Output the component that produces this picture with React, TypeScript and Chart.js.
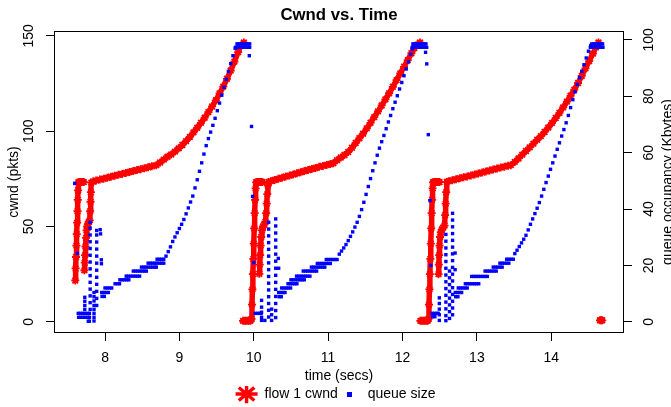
import React, { useEffect, useRef } from 'react';
import { Chart, registerables } from 'chart.js';

Chart.register(...registerables);

const FONT = '"Liberation Sans", Arial, Helvetica, sans-serif';

const chartTitle = 'Cwnd vs. Time';
const xAxisTitle = 'time (secs)';
const leftAxisTitle = 'cwnd (pkts)';
const rightAxisTitle = 'queue occupancy (Kbytes)';
const cwndLabel = 'flow 1 cwnd';
const queueLabel = 'queue size';

const xTicks = [8, 9, 10, 11, 12, 13, 14];
const cwndTicks = [0, 50, 100, 150];
const queueTicks = [0, 20, 40, 60, 80, 100];
const xRange = [7.314, 14.978];
const cwndRange = [-5.87, 152.57];
const queueRange = [-3.97, 103.17];

type P = [number, number | null];

// cwnd (pkts), [time, value]; null breaks the trace
const cwndCycle1: P[] = [
  [7.600, 21.7], [7.605, 28], [7.610, 34], [7.615, 40], [7.620, 46], [7.625, 52], [7.630, 58], [7.634, 64], [7.638, 69], [7.642, 73.2],
  [7.655, 73.4], [7.670, 73.4], [7.685, 73.4], [7.700, 73.4], [7.715, 73.3], [7.716, null],
  [7.722, 27], [7.727, 31], [7.732, 35], [7.738, 39.5], [7.745, 44], [7.752, 48], [7.760, 50], [7.770, 51.2], [7.782, 52.3], [7.794, 53.2],
  [7.800, 58], [7.805, 63], [7.810, 68], [7.816, 73],
  [7.84, 73.6], [7.88, 74.1], [7.93, 74.6], [7.98, 75.1], [8.03, 75.6], [8.08, 76.1], [8.13, 76.6], [8.18, 77.1], [8.23, 77.6],
  [8.28, 78.1], [8.33, 78.6], [8.38, 79.1], [8.43, 79.6], [8.48, 80.1], [8.53, 80.6], [8.58, 81.1], [8.63, 81.6], [8.69, 82.2],
  [8.74, 83.6], [8.79, 85.1], [8.84, 86.6], [8.89, 87.8], [8.94, 89.3], [8.99, 91], [9.04, 92.8], [9.09, 94.8], [9.14, 97],
  [9.19, 99.4], [9.24, 101.8], [9.29, 104.4], [9.34, 107.1], [9.39, 110], [9.44, 113], [9.49, 116.2], [9.54, 119.8], [9.59, 123.4],
  [9.64, 127.5], [9.69, 131.8], [9.74, 136.5], [9.79, 141.5], [9.83, 145], [9.867, 146.5], [9.868, null],
];

const cwndCycle2: P[] = [
  [9.855, 0.5], [9.875, 0.5], [9.895, 0.5], [9.915, 0.5], [9.935, 0.5], [9.955, 0.6],
  [9.970, 1.5], [9.976, 9], [9.982, 17], [9.988, 25], [9.994, 33], [10.000, 41], [10.006, 49], [10.012, 57], [10.018, 64], [10.025, 70], [10.032, 73.2],
  [10.045, 73.4], [10.060, 73.4], [10.075, 73.4], [10.090, 73.4], [10.105, 73.4], [10.115, 73.3], [10.116, null],
  [10.075, 25.2], [10.080, 30], [10.086, 35], [10.092, 40], [10.100, 44.5], [10.110, 48], [10.125, 50], [10.140, 51], [10.158, 52.5],
  [10.166, 57], [10.174, 62], [10.182, 67], [10.190, 71.5], [10.198, 73.4],
  [10.23, 73.8], [10.28, 74.4], [10.33, 75], [10.38, 75.6], [10.43, 76.2], [10.48, 76.7], [10.53, 77.3], [10.58, 77.9], [10.63, 78.5],
  [10.68, 79.1], [10.73, 79.6], [10.78, 80.2], [10.83, 80.7], [10.88, 81.3], [10.93, 81.8], [10.98, 82.3], [11.03, 82.8], [11.07, 83.2],
  [11.12, 84.8], [11.17, 86.2], [11.22, 87.5], [11.27, 89.1], [11.32, 91.3], [11.37, 93.8], [11.42, 96.3], [11.47, 98.7], [11.52, 101.5],
  [11.57, 104.4], [11.62, 107.4], [11.67, 110.4], [11.72, 113.5], [11.77, 116.7], [11.82, 119.9], [11.87, 123.3], [11.92, 126.8],
  [11.97, 130.3], [12.02, 133.8], [12.07, 137.3], [12.12, 140.9], [12.16, 143.6], [12.20, 145.4], [12.235, 146.5], [12.236, null],
];

const cwndCycle3: P[] = [
  [12.240, 0.5], [12.260, 0.5], [12.280, 0.5], [12.300, 0.5], [12.320, 0.5], [12.338, 0.6],
  [12.350, 1.5], [12.356, 9], [12.362, 17], [12.368, 25], [12.374, 33], [12.380, 41], [12.386, 49], [12.392, 57], [12.398, 64], [12.404, 70], [12.410, 73.2],
  [12.425, 73.4], [12.440, 73.4], [12.455, 73.4], [12.470, 73.4], [12.485, 73.4], [12.498, 73.3], [12.499, null],
  [12.484, 25], [12.488, 30], [12.493, 35], [12.498, 40], [12.505, 44.5], [12.515, 47], [12.530, 48.5], [12.548, 49.5], [12.565, 50.5],
  [12.573, 56], [12.580, 62], [12.587, 68], [12.595, 73.4],
  [12.62, 73.8], [12.67, 74.3], [12.72, 74.8], [12.77, 75.3], [12.82, 75.8], [12.87, 76.3], [12.92, 76.8], [12.97, 77.3], [13.02, 77.8],
  [13.07, 78.3], [13.12, 78.9], [13.17, 79.4], [13.22, 79.9], [13.27, 80.4], [13.32, 80.9], [13.37, 81.4], [13.42, 81.9], [13.456, 82.2],
  [13.51, 83.9], [13.56, 85.7], [13.61, 87.7], [13.66, 89.6], [13.71, 91.5], [13.76, 93.5], [13.81, 95.5], [13.86, 97.4], [13.91, 99.6],
  [13.96, 101.9], [14.01, 104.3], [14.06, 106.9], [14.11, 109.6], [14.16, 112.5], [14.21, 115.5], [14.26, 118.6], [14.31, 121.8],
  [14.36, 125.3], [14.41, 129], [14.46, 133], [14.51, 136.8], [14.56, 140.7], [14.60, 144], [14.635, 146.5], [14.636, null],
  [14.655, 0.8], [14.670, 0.8], [14.685, 0.8],
];

// queue occupancy (Kbytes), [time, value]
const queueCycle1: P[] = [
  [7.592, 49.1], [7.629, 24.3],
  [7.640, 3.0], [7.670, 3.0], [7.700, 3.0], [7.730, 3.0], [7.760, 3.0], [7.790, 3.0],
  [7.645, 1.6], [7.675, 1.6], [7.705, 1.6], [7.735, 1.6], [7.765, 1.6], [7.790, 1.6],
  [7.775, 0.2], [7.790, 0.2],
  [7.728, 4.4], [7.728, 5.8], [7.728, 7.3], [7.728, 8.7],
  [7.800, 4.4], [7.800, 6.8], [7.800, 9.2], [7.800, 11.6], [7.800, 14.0], [7.800, 16.4], [7.800, 18.8], [7.800, 21.2],
  [7.800, 23.6], [7.800, 26.0], [7.800, 28.4], [7.800, 30.8], [7.800, 33.2], [7.800, 35.3],
  [7.852, 0.3], [7.852, 1.6], [7.852, 3.0], [7.852, 4.4], [7.852, 5.8], [7.852, 7.4], [7.852, 8.9], [7.852, 10.4],
  [7.888, 5.8], [7.888, 8.3], [7.888, 10.8], [7.888, 13.3], [7.888, 15.8], [7.888, 18.3], [7.888, 20.8], [7.888, 23.3],
  [7.888, 25.8], [7.888, 28.3], [7.888, 30.8], [7.888, 32.4],
  [7.935, 32.7], [7.940, 31.2], [7.950, 22.0], [7.952, 20.6],
  [7.955, 10.4], [7.985, 10.4], [8.015, 10.4], [8.045, 10.4], [7.960, 9.0], [7.990, 9.0],
  [8.000, 12.0], [8.030, 12.0], [8.060, 12.0], [8.090, 12.0],
  [8.135, 13.5], [8.165, 13.5], [8.195, 13.5],
  [8.200, 14.9], [8.230, 14.9], [8.260, 14.9], [8.290, 14.9], [8.320, 14.9],
  [8.285, 16.2], [8.315, 16.2], [8.345, 16.2], [8.375, 16.2], [8.405, 16.2], [8.435, 16.2], [8.465, 16.2],
  [8.380, 18.0], [8.410, 18.0], [8.440, 18.0], [8.470, 18.0], [8.500, 18.0], [8.530, 18.0], [8.555, 18.0],
  [8.490, 19.4], [8.520, 19.4], [8.550, 19.4], [8.580, 19.4], [8.610, 19.4], [8.640, 19.4], [8.670, 19.4], [8.690, 19.4],
  [8.580, 20.8], [8.610, 20.8], [8.640, 20.8], [8.670, 20.8], [8.700, 20.8], [8.730, 20.8], [8.760, 20.8], [8.790, 20.8],
  [8.700, 22.2], [8.730, 22.2], [8.760, 22.2], [8.790, 22.2],
  [8.82, 23.3], [8.85, 24.9], [8.88, 26.6], [8.91, 28.5], [8.94, 30.1], [8.97, 31.6], [9.00, 33.1], [9.03, 34.6], [9.06, 36.3],
  [9.09, 38.3], [9.12, 40.4], [9.15, 42.5], [9.18, 44.6], [9.21, 47.5], [9.24, 50.4], [9.27, 53.4], [9.30, 56.4], [9.33, 59.5],
  [9.36, 62.5], [9.39, 65.0], [9.42, 67.3], [9.45, 69.7], [9.48, 72.2], [9.51, 74.9], [9.54, 77.6], [9.57, 80.4], [9.60, 83.2],
  [9.63, 86.0], [9.66, 88.8], [9.69, 91.6], [9.72, 94.4], [9.75, 97.0],
  [9.755, 97.4], [9.780, 97.4], [9.805, 97.4], [9.830, 97.4], [9.855, 97.4], [9.880, 97.4], [9.905, 97.4], [9.930, 97.4], [9.945, 97.4],
  [9.775, 98.6], [9.800, 98.6], [9.825, 98.6], [9.850, 98.6], [9.875, 98.6], [9.900, 98.6], [9.925, 98.6], [9.945, 98.6],
  [9.940, 94.4], [9.970, 69.3], [9.984, 44.5], [10.001, 21.0],
];

const queueCycle2: P[] = [
  [10.02, 3.0], [10.05, 3.0], [10.08, 3.0], [10.10, 3.0],
  [10.105, 0.5], [10.105, 1.6], [10.105, 3.4], [10.105, 5.2], [10.105, 7.6], [10.149, 0.5],
  [10.200, 35.3], [10.200, 32.9], [10.200, 30.5], [10.200, 28.1], [10.200, 25.7], [10.200, 23.3], [10.200, 20.9], [10.200, 18.5],
  [10.200, 16.1], [10.200, 13.7], [10.200, 11.3], [10.200, 8.9], [10.200, 6.5], [10.200, 4.1], [10.200, 1.7],
  [10.240, 0.5], [10.240, 2.5], [10.240, 4.5],
  [10.295, 36.5], [10.295, 34.0], [10.295, 31.5], [10.295, 29.0], [10.295, 26.5], [10.295, 24.0], [10.295, 21.5], [10.295, 19.0],
  [10.295, 16.5], [10.295, 14.0], [10.295, 11.5], [10.295, 9.0], [10.295, 6.5], [10.295, 4.0], [10.295, 1.5],
  [10.330, 22.5], [10.335, 19.0],
  [10.335, 10.4], [10.365, 10.4], [10.395, 10.4], [10.420, 10.4], [10.340, 8.9], [10.370, 8.9],
  [10.375, 12.0], [10.405, 12.0], [10.435, 12.0], [10.465, 12.0], [10.495, 12.0],
  [10.460, 13.5], [10.490, 13.5], [10.520, 13.5], [10.550, 13.5], [10.580, 13.5],
  [10.500, 14.9], [10.530, 14.9], [10.560, 14.9], [10.590, 14.9], [10.620, 14.9], [10.650, 14.9], [10.680, 14.9],
  [10.575, 16.2], [10.605, 16.2], [10.635, 16.2], [10.665, 16.2], [10.695, 16.2], [10.725, 16.2], [10.755, 16.2],
  [10.665, 18.0], [10.695, 18.0], [10.725, 18.0], [10.755, 18.0], [10.785, 18.0], [10.815, 18.0], [10.845, 18.0],
  [10.775, 19.4], [10.805, 19.4], [10.835, 19.4], [10.865, 19.4], [10.895, 19.4], [10.925, 19.4], [10.955, 19.4],
  [10.855, 20.7], [10.885, 20.7], [10.915, 20.7], [10.945, 20.7], [10.975, 20.7], [11.005, 20.7], [11.030, 20.7],
  [10.975, 22.1], [11.005, 22.1], [11.035, 22.1], [11.065, 22.1], [11.095, 22.1], [11.120, 22.1],
  [11.15, 24.0], [11.18, 25.1], [11.21, 26.2], [11.24, 27.4], [11.27, 28.8], [11.30, 30.3], [11.33, 31.9], [11.36, 33.6], [11.39, 35.3],
  [11.42, 37.4], [11.45, 39.8], [11.48, 42.4], [11.51, 45.2], [11.54, 48.0], [11.57, 50.8], [11.60, 53.6], [11.63, 56.4], [11.66, 59.1],
  [11.69, 61.6], [11.72, 63.9], [11.75, 66.1], [11.78, 68.5], [11.81, 70.9], [11.84, 73.2], [11.87, 75.6], [11.90, 77.9], [11.93, 80.2],
  [11.96, 82.6], [11.99, 84.9], [12.02, 87.3], [12.05, 89.7], [12.08, 92.2], [12.11, 94.9], [12.13, 96.8],
  [12.130, 97.4], [12.155, 97.4], [12.180, 97.4], [12.205, 97.4], [12.230, 97.4], [12.255, 97.4], [12.280, 97.4], [12.305, 97.4], [12.325, 97.4],
  [12.140, 98.6], [12.165, 98.6], [12.190, 98.6], [12.215, 98.6], [12.240, 98.6], [12.265, 98.6], [12.290, 98.6], [12.315, 98.6],
  [12.310, 95.6], [12.326, 91.5], [12.347, 66.4], [12.370, 43.0], [12.380, 20.0],
];

const queueCycle3: P[] = [
  [12.40, 3.0], [12.43, 3.0], [12.46, 3.0], [12.48, 3.0], [12.405, 1.8], [12.435, 1.8],
  [12.495, 0.5], [12.495, 2.5], [12.495, 4.5], [12.495, 6.5], [12.495, 8.5],
  [12.583, 31.0], [12.583, 28.6], [12.583, 26.2], [12.583, 23.8], [12.583, 21.4], [12.583, 19.0], [12.583, 16.6],
  [12.583, 14.2], [12.583, 11.8], [12.583, 9.4], [12.583, 7.0], [12.583, 4.6], [12.583, 2.2], [12.583, 0.4],
  [12.632, 18.0], [12.632, 15.6], [12.632, 13.2], [12.632, 10.8], [12.632, 8.4], [12.632, 6.0], [12.632, 3.6], [12.632, 1.2],
  [12.673, 38.5], [12.673, 36.1], [12.673, 33.7], [12.673, 31.3], [12.673, 28.9], [12.673, 26.5], [12.673, 24.1], [12.673, 21.7],
  [12.673, 19.3], [12.673, 16.9], [12.673, 14.5], [12.673, 12.1], [12.673, 9.7], [12.673, 7.3], [12.673, 4.9], [12.673, 2.5],
  [12.707, 24.4], [12.707, 18.5],
  [12.710, 10.4], [12.740, 10.4], [12.770, 10.4], [12.795, 10.4], [12.715, 8.9], [12.745, 8.9],
  [12.750, 12.0], [12.780, 12.0], [12.810, 12.0], [12.840, 12.0], [12.870, 12.0],
  [12.845, 13.5], [12.875, 13.5], [12.905, 13.5], [12.935, 13.5], [12.965, 13.5], [12.995, 13.5], [13.025, 13.5],
  [12.930, 16.1], [12.960, 16.1], [12.990, 16.1], [13.020, 16.1], [13.050, 16.1], [13.080, 16.1], [13.110, 16.1], [13.140, 16.1],
  [13.110, 18.0], [13.140, 18.0], [13.170, 18.0], [13.200, 18.0], [13.230, 18.0], [13.260, 18.0],
  [13.220, 19.4], [13.250, 19.4], [13.280, 19.4], [13.310, 19.4], [13.340, 19.4],
  [13.310, 20.8], [13.340, 20.8], [13.370, 20.8], [13.400, 20.8], [13.430, 20.8],
  [13.400, 22.2], [13.430, 22.2], [13.460, 22.2], [13.490, 22.2],
  [13.51, 24.2], [13.54, 25.4], [13.57, 26.7], [13.60, 28.0], [13.63, 29.3], [13.66, 30.7], [13.69, 32.6], [13.72, 34.6], [13.75, 36.5],
  [13.78, 38.4], [13.81, 40.3], [13.84, 42.3], [13.87, 44.6], [13.90, 47.0], [13.93, 49.4], [13.96, 51.7], [13.99, 54.1], [14.02, 56.4],
  [14.05, 58.8], [14.08, 61.2], [14.11, 63.5], [14.14, 65.9], [14.17, 68.2], [14.20, 70.6], [14.23, 73.2], [14.26, 76.0], [14.29, 78.8],
  [14.32, 81.6], [14.35, 84.2], [14.38, 86.6], [14.41, 88.9], [14.44, 91.2], [14.47, 93.6], [14.50, 96.0], [14.53, 98.0],
  [14.525, 97.4], [14.550, 97.4], [14.575, 97.4], [14.600, 97.4], [14.625, 97.4], [14.650, 97.4], [14.675, 97.4], [14.695, 97.4],
  [14.545, 98.6], [14.570, 98.6], [14.595, 98.6], [14.620, 98.6], [14.645, 98.6], [14.670, 98.6], [14.690, 98.6],
];

const toXY = (pts: P[]) => pts.map(([x, y]) => ({ x, y }));

const framePlugin = {
  id: 'rStyleFrame',
  afterDraw(chart: any) {
    const { ctx, chartArea: a } = chart;
    ctx.save();
    ctx.strokeStyle = '#000';
    ctx.lineWidth = 1;
    const l = Math.round(a.left), t = Math.round(a.top), r = Math.round(a.right), b = Math.round(a.bottom);
    ctx.strokeRect(l + 0.5, t + 0.5, r - l - 1, b - t - 1);
    const s = chart.scales.yQueue;
    ctx.translate(s.right - 3, (a.top + a.bottom) / 2);
    ctx.rotate(-Math.PI / 2);
    ctx.fillStyle = '#000';
    ctx.font = `14px ${FONT}`;
    ctx.textAlign = 'center';
    ctx.textBaseline = 'middle';
    ctx.fillText(rightAxisTitle, 0, 0);
    ctx.restore();
  },
};

const tickGrid = {
  display: true,
  drawOnChartArea: false,
  drawTicks: true,
  tickLength: 8,
  color: '#000',
  tickColor: '#000',
  lineWidth: 1,
};

export default function App() {
  const ref = useRef<HTMLCanvasElement>(null);

  useEffect(() => {
    const canvas = ref.current;
    if (!canvas) return;
    Chart.defaults.font.family = FONT;
    Chart.defaults.font.size = 14;
    Chart.defaults.color = '#000';

    const blueIcon = document.createElement('canvas');
    blueIcon.width = 5;
    blueIcon.height = 5;
    const ictx = blueIcon.getContext('2d');
    if (ictx) {
      ictx.fillStyle = '#0000ff';
      ictx.fillRect(0, 0, 5, 5);
    }

    const chart = new Chart(canvas, {
      type: 'scatter',
      data: {
        datasets: [
          {
            label: cwndLabel,
            data: toXY([...cwndCycle1, ...cwndCycle2, ...cwndCycle3]),
            yAxisID: 'yCwnd',
            showLine: true,
            spanGaps: false,
            borderColor: '#ff0000',
            backgroundColor: '#ff0000',
            borderWidth: 5.5,
            borderJoinStyle: 'round',
            borderCapStyle: 'round',
            pointStyle: 'star',
            pointRadius: 4,
            pointBorderWidth: 1.8,
            pointBorderColor: '#ff0000',
            pointBackgroundColor: '#ff0000',
            order: 1,
          } as any,
          {
            label: queueLabel,
            data: toXY([...queueCycle1, ...queueCycle2, ...queueCycle3]),
            yAxisID: 'yQueue',
            showLine: false,
            pointStyle: 'rect',
            pointRadius: 2.4,
            pointBorderWidth: 0,
            pointBackgroundColor: '#0000ff',
            backgroundColor: '#0000ff',
            borderColor: '#0000ff',
            order: 0,
          } as any,
        ],
      },
      options: {
        animation: false,
        responsive: false,
        devicePixelRatio: 1,
        layout: { padding: 0 },
        events: [],
        scales: {
          x: {
            type: 'linear',
            position: 'bottom',
            min: xRange[0],
            max: xRange[1],
            afterBuildTicks: (s: any) => { s.ticks = xTicks.map((value) => ({ value })); },
            afterFit: (s: any) => { s.height = 53; },
            ticks: { padding: 9, maxRotation: 0, autoSkip: false, color: '#000', font: { size: 14 } },
            grid: tickGrid,
            border: { display: false },
            title: { display: true, text: xAxisTitle, color: '#000', font: { size: 14 }, padding: { top: 0, bottom: 1.5 } },
          },
          yCwnd: {
            type: 'linear',
            position: 'left',
            min: cwndRange[0],
            max: cwndRange[1],
            afterBuildTicks: (s: any) => { s.ticks = cwndTicks.map((value) => ({ value })); },
            afterFit: (s: any) => { s.width = 54; },
            ticks: { padding: 5, minRotation: 90, maxRotation: 90, crossAlign: 'center', autoSkip: false, color: '#000', font: { size: 14 } },
            grid: tickGrid,
            border: { display: false },
            title: { display: true, text: leftAxisTitle, color: '#000', font: { size: 14 }, padding: { top: 6.2, bottom: 0 } },
          },
          yQueue: {
            type: 'linear',
            position: 'right',
            min: queueRange[0],
            max: queueRange[1],
            afterBuildTicks: (s: any) => { s.ticks = queueTicks.map((value) => ({ value })); },
            afterFit: (s: any) => { s.width = 47; },
            ticks: { padding: 5, minRotation: 90, maxRotation: 90, crossAlign: 'center', autoSkip: false, color: '#000', font: { size: 14 } },
            grid: tickGrid,
            border: { display: false },
            title: { display: false },
          },
        },
        plugins: {
          title: {
            display: true,
            text: chartTitle,
            color: '#000',
            fullSize: false,
            font: { size: 16.8, weight: 'bold' },
            padding: { top: 5, bottom: 5.84 },
          },
          legend: {
            display: true,
            position: 'bottom',
            maxHeight: 21,
            labels: {
              usePointStyle: true,
              pointStyleWidth: 22,
              boxHeight: 13,
              padding: 1,
              color: '#000',
              font: { size: 14 },
              generateLabels: (c: any) => {
                const ds = c.data.datasets;
                return [
                  { text: ds[0].label, fillStyle: '#ff0000', strokeStyle: '#ff0000', lineWidth: 3.4, pointStyle: 'star', datasetIndex: 0, hidden: false, fontColor: '#000' },
                  { text: ds[1].label, fillStyle: '#0000ff', strokeStyle: '#0000ff', lineWidth: 0, pointStyle: blueIcon, datasetIndex: 1, hidden: false, fontColor: '#000' },
                ];
              },
            },
          },
          tooltip: { enabled: false },
        },
      } as any,
      plugins: [framePlugin],
    });

    return () => chart.destroy();
  }, []);

  return (
    <div style={{ position: 'absolute', left: 0, top: 0, width: 671, height: 407, background: '#fff' }}>
      <canvas ref={ref} width={671} height={407} style={{ display: 'block' }} />
    </div>
  );
}
